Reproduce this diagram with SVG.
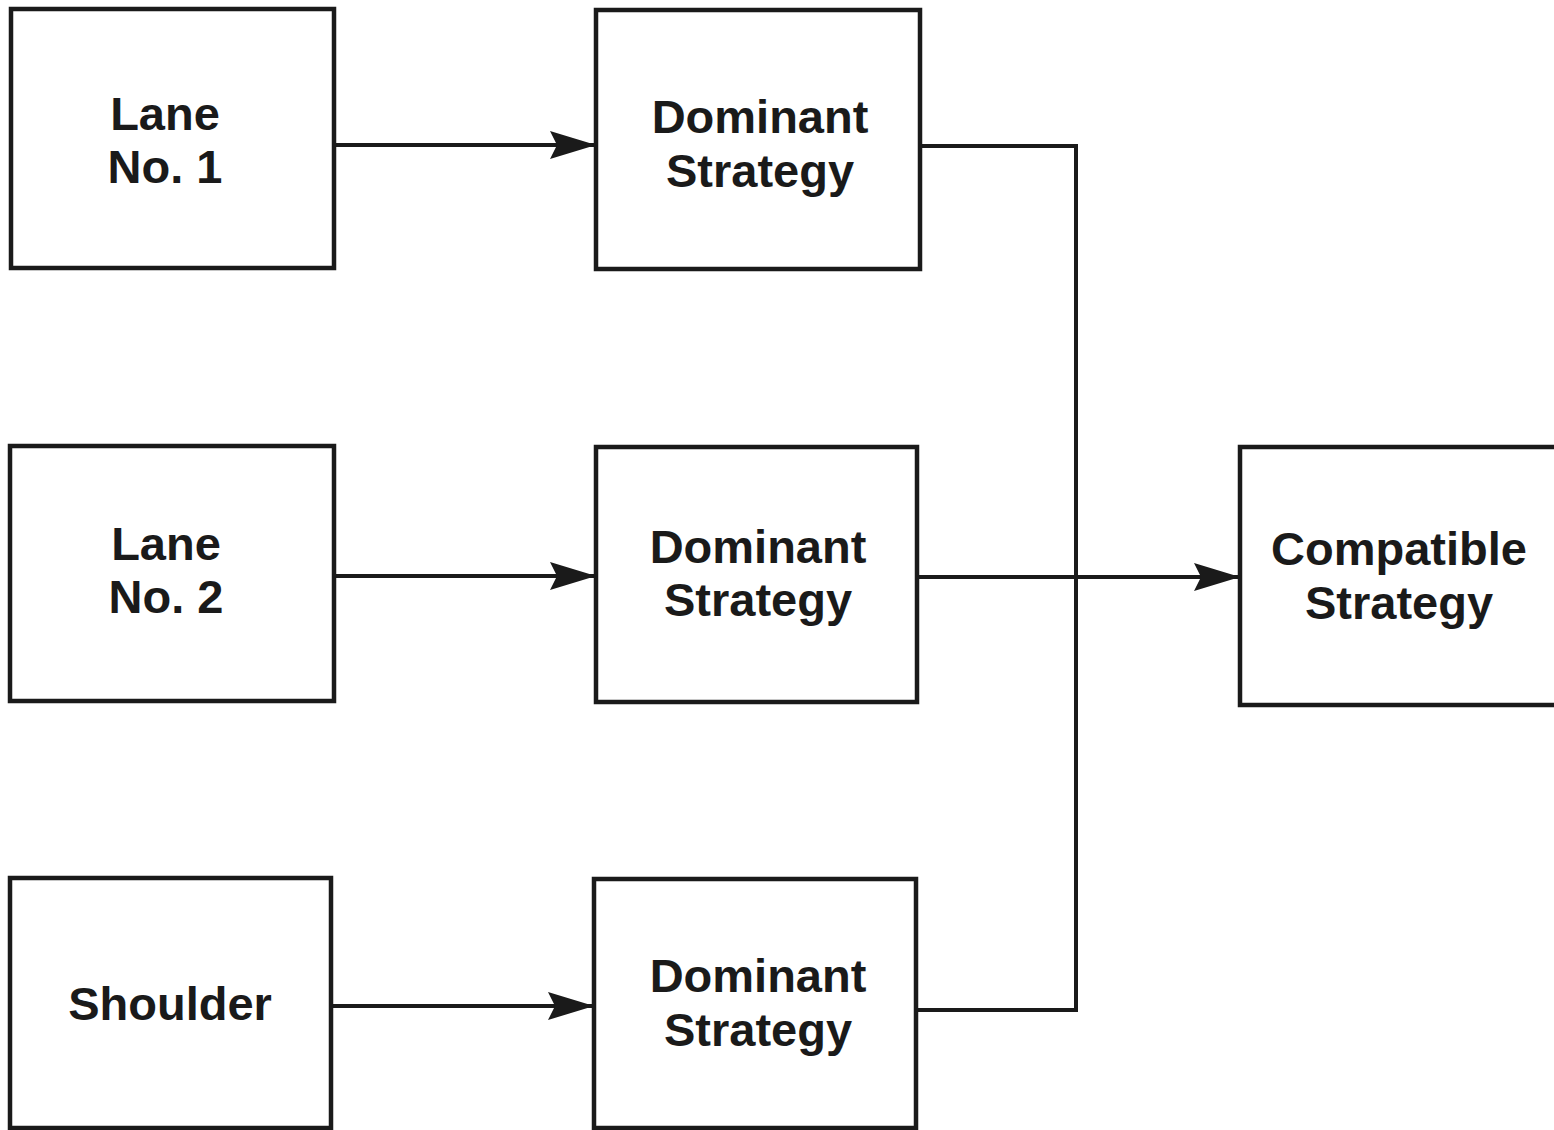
<svg xmlns="http://www.w3.org/2000/svg" width="1554" height="1130" viewBox="0 0 1554 1130">
  <defs>
    <marker id="arrow" markerUnits="userSpaceOnUse" markerWidth="48" markerHeight="32" refX="46" refY="16" orient="auto">
      <path d="M0,2 L46,16 L0,30 L7,16 Z" fill="#1a1a1a"/>
    </marker>
    <style>
      .box { fill: #ffffff; stroke: #1a1a1a; stroke-width: 4.5; }
      .label { font-family: "Liberation Sans", Arial, sans-serif; font-weight: bold; font-size: 47px; fill: #1a1a1a; text-anchor: middle; }
      .wire { fill: none; stroke: #1a1a1a; stroke-width: 4; }
    </style>
  </defs>
  <rect width="1554" height="1130" fill="#ffffff"/>

  <g id="connectors">
    <line class="wire" x1="334" y1="145" x2="596" y2="145" marker-end="url(#arrow)"/>
    <line class="wire" x1="334" y1="576" x2="596" y2="576" marker-end="url(#arrow)"/>
    <line class="wire" x1="331" y1="1006" x2="594" y2="1006" marker-end="url(#arrow)"/>
    <polyline class="wire" points="920,146 1076,146 1076,1010 916,1010"/>
    <line class="wire" x1="917" y1="577" x2="1240" y2="577" marker-end="url(#arrow)"/>
  </g>

  <g id="lane1">
    <rect class="box" x="11" y="9" width="323" height="259"/>
    <text class="label" x="165" y="130">Lane</text>
    <text class="label" x="165" y="183">No. 1</text>
  </g>
  <g id="lane2">
    <rect class="box" x="10" y="446" width="324" height="255"/>
    <text class="label" x="166" y="560">Lane</text>
    <text class="label" x="166" y="613">No. 2</text>
  </g>
  <g id="shoulder">
    <rect class="box" x="10" y="878" width="321" height="250"/>
    <text class="label" x="170" y="1020">Shoulder</text>
  </g>
  <g id="dominant1">
    <rect class="box" x="596" y="10" width="324" height="259"/>
    <text class="label" x="760" y="133">Dominant</text>
    <text class="label" x="760" y="187">Strategy</text>
  </g>
  <g id="dominant2">
    <rect class="box" x="596" y="447" width="321" height="255"/>
    <text class="label" x="758" y="563">Dominant</text>
    <text class="label" x="758" y="616">Strategy</text>
  </g>
  <g id="dominant3">
    <rect class="box" x="594" y="879" width="322" height="249"/>
    <text class="label" x="758" y="992">Dominant</text>
    <text class="label" x="758" y="1046">Strategy</text>
  </g>
  <g id="compatible">
    <rect class="box" x="1240" y="447" width="320" height="258"/>
    <text class="label" x="1399" y="565">Compatible</text>
    <text class="label" x="1399" y="619">Strategy</text>
  </g>
</svg>
